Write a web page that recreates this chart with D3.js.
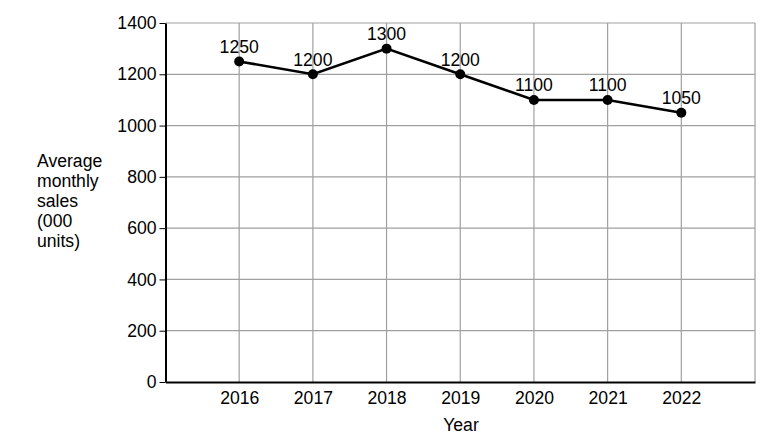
<!DOCTYPE html>
<html><head><meta charset="utf-8">
<script src="https://cdn.jsdelivr.net/npm/d3@7"></script>
<style>body{margin:0;background:#fff;} text{font-family:"Liberation Sans",Arial,sans-serif;fill:#000;}</style>
</head><body>
<svg id="c" width="762" height="438"></svg>
<script>
const years = [2016, 2017, 2018, 2019, 2020, 2021, 2022];
const sales = [1250, 1200, 1300, 1200, 1100, 1100, 1050];
const yTicks = [0, 200, 400, 600, 800, 1000, 1200, 1400];
const yLabelLines = ["Average", "monthly", "sales", "(000", "units)"];
const xTitle = "Year";

const FS = "17.6px";
const svg = d3.select("#c");
const L = 165.5, R = 755, T = 23, B = 382;
const x = d3.scaleLinear().domain([2015, 2023]).range([L, R]);
const y = d3.scaleLinear().domain([0, 1400]).range([B, T]);

// grid
const g = svg.append("g");
g.selectAll(".hg").data(yTicks.filter(d => d > 0)).enter().append("line")
  .attr("x1", L).attr("x2", R).attr("y1", d => y(d)).attr("y2", d => y(d))
  .attr("stroke", "#a0a0a0").attr("stroke-width", 1.2);
g.selectAll(".vg").data(years.concat([2023])).enter().append("line")
  .attr("x1", d => x(d)).attr("x2", d => x(d)).attr("y1", T).attr("y2", B)
  .attr("stroke", "#a0a0a0").attr("stroke-width", 1.2);

// y axis
const ya = svg.append("g").attr("transform", `translate(${L},0)`)
  .call(d3.axisLeft(y).tickValues(yTicks).tickFormat(d3.format("d")).tickSize(6).tickPadding(3).tickSizeOuter(0));
ya.select(".domain").attr("stroke", "#000").attr("stroke-width", 2);
ya.selectAll(".tick line").attr("stroke", "#000").attr("stroke-width", 1);
ya.selectAll(".tick text").style("font-size", FS).style("font-family", "Liberation Sans, Arial, sans-serif").attr("fill", "#000");

// x axis
const xa = svg.append("g").attr("transform", `translate(0,${B})`)
  .call(d3.axisBottom(x).tickValues(years).tickFormat(d3.format("d")).tickSize(0).tickPadding(10).tickSizeOuter(0));
xa.select(".domain").attr("stroke", "#000").attr("stroke-width", 2);
xa.selectAll(".tick text").style("font-size", FS).style("font-family", "Liberation Sans, Arial, sans-serif").attr("fill", "#000");

// titles
svg.append("text").attr("x", 461).attr("y", 431).attr("text-anchor", "middle").style("font-size", FS).text(xTitle);
svg.append("g").selectAll("text").data(yLabelLines).enter().append("text")
  .attr("x", 37).attr("y", (d, i) => 167 + i * 20).style("font-size", FS).text(d => d);

// line
const data = years.map((yr, i) => ({yr, v: sales[i]}));
svg.append("path").datum(data)
  .attr("d", d3.line().x(d => x(d.yr)).y(d => y(d.v)))
  .attr("fill", "none").attr("stroke", "#000").attr("stroke-width", 2.6);
svg.selectAll(".pt").data(data).enter().append("circle")
  .attr("cx", d => x(d.yr)).attr("cy", d => y(d.v)).attr("r", 5).attr("fill", "#000");
svg.selectAll(".lbl").data(data).enter().append("text")
  .attr("x", d => x(d.yr)).attr("y", d => y(d.v) - 8.5).attr("text-anchor", "middle")
  .style("font-size", FS).text(d => d.v);
</script>
</body></html>
